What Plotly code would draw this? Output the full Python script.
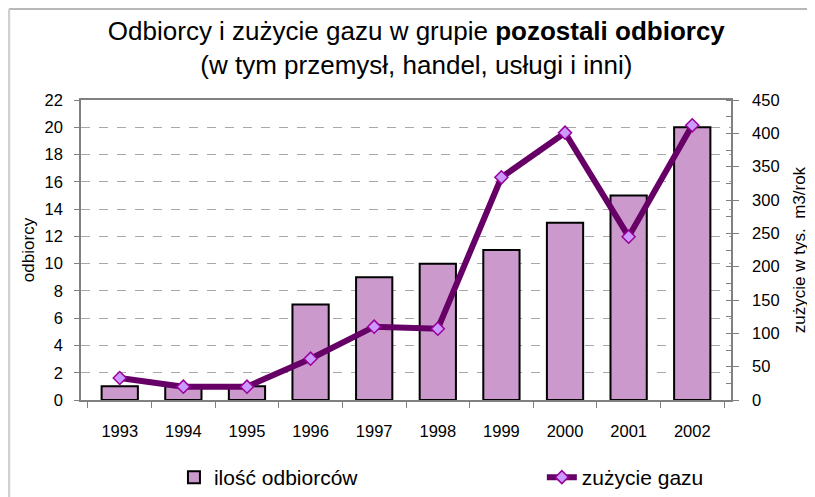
import plotly.graph_objects as go

# dane
lata = ['1993', '1994', '1995', '1996', '1997', '1998', '1999', '2000', '2001', '2002']
odbiorcy = [1, 1, 1, 7, 9, 10, 11, 13, 15, 20]
zuzycie = [33, 20, 20, 62, 110, 107, 334, 401, 245, 412]

FONT = 'Liberation Sans, Arial, sans-serif'

fig = go.Figure()

# słupki - ilość odbiorców (lewa oś)
fig.add_trace(go.Bar(
    x=lata,
    y=odbiorcy,
    name='ilość odbiorców',
    marker=dict(color='#CC99CC', line=dict(color='#000000', width=2)),
    yaxis='y',
    legend='legend',
))

# linia - zużycie gazu (prawa oś)
fig.add_trace(go.Scatter(
    x=lata,
    y=zuzycie,
    name='zużycie gazu',
    mode='lines+markers',
    line=dict(color='#660066', width=6),
    marker=dict(symbol='diamond', size=10, color='#CC99FF',
                line=dict(color='#990099', width=1.5)),
    yaxis='y2',
    legend='legend2',
))

# ramka obszaru wykresu (góra i lewa krawędź)
fig.add_shape(type='line', xref='paper', yref='paper',
              x0=-0.1108, x1=1.15, y0=1.3033, y1=1.3033,
              line=dict(color='#A0A0A0', width=1.5))
fig.add_shape(type='line', xref='paper', yref='paper',
              x0=-0.1108, x1=-0.1108, y0=1.3033, y1=-0.33,
              line=dict(color='#D0D0D0', width=2.5))

legend_style = dict(
    orientation='h',
    yanchor='top', y=-0.19,
    xanchor='left',
    font=dict(size=21),
    bgcolor='rgba(0,0,0,0)',
)

fig.update_layout(
    width=807,
    height=489,
    margin=dict(l=73, r=84, t=92, b=97, autoexpand=False),
    paper_bgcolor='white',
    plot_bgcolor='white',
    font=dict(family=FONT, size=16, color='#000000'),
    title=dict(
        text='Odbiorcy i zużycie gazu w grupie <b>pozostali odbiorcy</b>'
             '<br>(w tym przemysł, handel, usługi i inni)',
        x=0.506, xanchor='center', xref='container',
        y=0.935, yanchor='middle', yref='container',
        font=dict(family=FONT, size=26, color='#000000'),
    ),
    bargap=0.43,
    xaxis=dict(
        type='category',
        showline=True, linecolor='#808080', linewidth=1.5, mirror=True,
        ticks='outside', tickson='boundaries', ticklen=6, tickcolor='#808080',
        showgrid=False,
        tickfont=dict(size=16.5),
        ticklabelstandoff=15,
    ),
    yaxis=dict(
        range=[0, 22], dtick=2,
        showline=True, linecolor='#808080', linewidth=1.5,
        ticks='outside', ticklen=5, tickcolor='#808080',
        showgrid=True, gridcolor='#A8A8A8', griddash='dash', gridwidth=1,
        zeroline=False,
        tickfont=dict(size=16.5),
        ticklabelstandoff=8,
        title=dict(text='odbiorcy', font=dict(size=17), standoff=6),
    ),
    yaxis2=dict(
        range=[0, 450], dtick=50,
        overlaying='y', side='right',
        showline=True, linecolor='#808080', linewidth=1.5,
        ticks='outside', ticklen=6, tickcolor='#808080',
        minor=dict(ticks='inside', ticklen=5, dtick=25, tickcolor='#808080'),
        showgrid=False, zeroline=False,
        tickfont=dict(size=16.5),
        ticklabelstandoff=10,
        title=dict(text='zużycie w tys.  m3/rok', font=dict(size=17), standoff=15),
    ),
    showlegend=True,
    legend=dict(legend_style, x=0.143),
    legend2=dict(legend_style, x=0.709),
)

fig.write_html('out.html')
